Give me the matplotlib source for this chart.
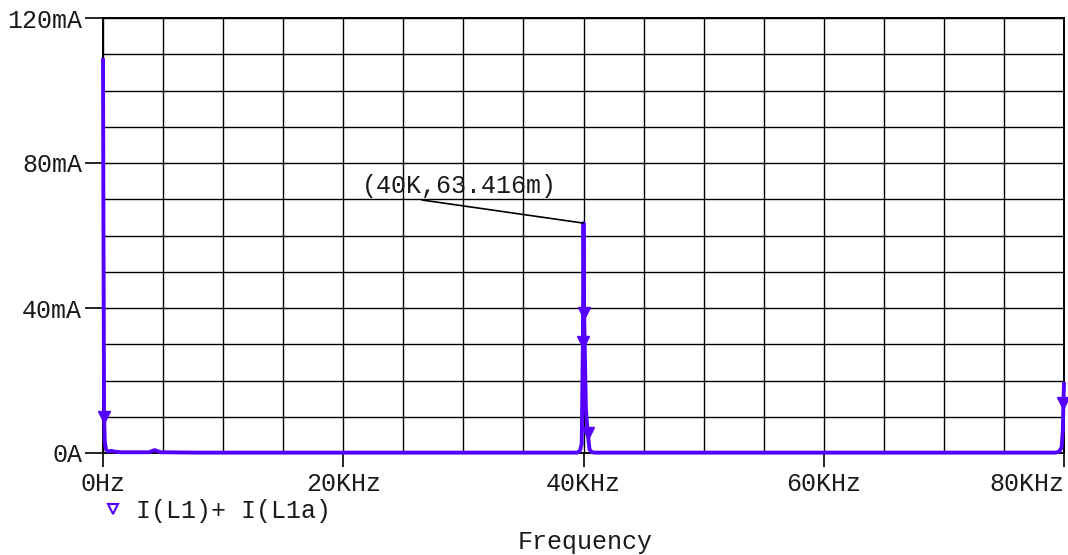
import matplotlib
matplotlib.use("Agg")
import matplotlib.pyplot as plt
from matplotlib.lines import Line2D
from matplotlib.ticker import MultipleLocator

# ---- data ----
freq_hz = [0, 40, 90, 150, 250, 400, 700, 900, 1500, 3800, 4300, 4800, 8000,
           39500, 39700, 39850, 39950, 40000, 40050, 40200, 40350, 40500, 40700, 41000,
           79300, 79600, 79800, 79900, 79950, 80000]
current_ma = [108.4, 60.0, 10.0, 3.0, 1.0, 0.4, 0.6, 0.4, 0.2, 0.2, 0.8, 0.2, 0.1,
              0.1, 0.6, 2.5, 30.6, 63.416, 38.6, 12.0, 5.5, 1.0, 0.2, 0.1,
              0.1, 0.4, 1.5, 6.0, 13.8, 19.0]
marker_idx = [2, 16, 18, 20, 28]

x_major = [0, 20000, 40000, 60000, 80000]
x_labels = ["0Hz", "20KHz", "40KHz", "60KHz", "80KHz"]
y_major = [0, 40, 80, 120]
y_labels = ["0A", "40mA", "80mA", "120mA"]

series_name = "I(L1)+ I(L1a)"
annot_text = "(40K,63.416m)"
annot_pt = (40000, 63.416)

# ---- style ----
FONT = "Liberation Mono"
FS = 18
TXT = "#1a1a1a"
TRACE = "#5500ff"

plt.rcParams["font.family"] = [FONT, "DejaVu Sans Mono"]

fig = plt.figure(figsize=(10.68, 5.55), dpi=100)
L, R, T, B = 103, 1064, 18, 453
ax = fig.add_axes([L / 1068, 1 - B / 555, (R - L) / 1068, (B - T) / 555])

ax.plot(freq_hz, current_ma, color=TRACE, lw=2.8, marker="v", markevery=marker_idx,
        ms=8, mfc=TRACE, mec=TRACE, clip_on=False, zorder=5, solid_joinstyle="round")

ax.set_xlim(0, 80000)
ax.set_ylim(0, 120)

ax.xaxis.set_minor_locator(MultipleLocator(5000))
ax.yaxis.set_minor_locator(MultipleLocator(10))
ax.set_xticks(x_major)
ax.set_xticklabels(x_labels)
ax.set_yticks(y_major)
ax.set_yticklabels(y_labels)
ax.get_xticklabels()[-1].set_ha("right")
ax.get_xticklabels()[-1].set_x(80000)

ax.grid(True, which="both", color="black", lw=1.0)
ax.set_axisbelow(True)
ax.tick_params(axis="x", which="major", direction="out", length=10, width=1.2,
               pad=3.5, labelsize=FS, labelcolor=TXT)
ax.tick_params(axis="y", which="major", direction="out", length=13, width=1.2,
               pad=2, labelsize=FS, labelcolor=TXT)
ax.tick_params(which="minor", length=0)
for s in ax.spines.values():
    s.set_linewidth(1.4)

ax.set_xlabel("Frequency", fontsize=FS, color=TXT, va="center")
ax.xaxis.set_label_coords((585 - L) / (R - L), (B - 542) / (B - T))

# annotation
x0 = (422 - L) / (R - L) * 80000
y0 = (B - 200) / (B - T) * 120
ax.annotate("", xy=annot_pt, xytext=(x0, y0),
            arrowprops=dict(arrowstyle="-", color="black", lw=1.2, shrinkA=0, shrinkB=0),
            zorder=6)
tx = (362 - L) / (R - L) * 80000
ty = (B - 186) / (B - T) * 120
ax.text(tx, ty, annot_text, fontsize=FS, color=TXT, va="center", ha="left", zorder=7)

# legend
h = Line2D([], [], marker="v", ls="none", color=TRACE, mfc="none", mec=TRACE, ms=7, mew=1.5)
leg = fig.legend([h], [series_name], loc="center left",
                 bbox_to_anchor=(100 / 1068, 1 - 511 / 555),
                 frameon=False, fontsize=FS, handlelength=1.0, handletextpad=0.45,
                 borderpad=0, borderaxespad=0)
for t in leg.get_texts():
    t.set_color(TXT)

fig.savefig("out.png", dpi=100)
